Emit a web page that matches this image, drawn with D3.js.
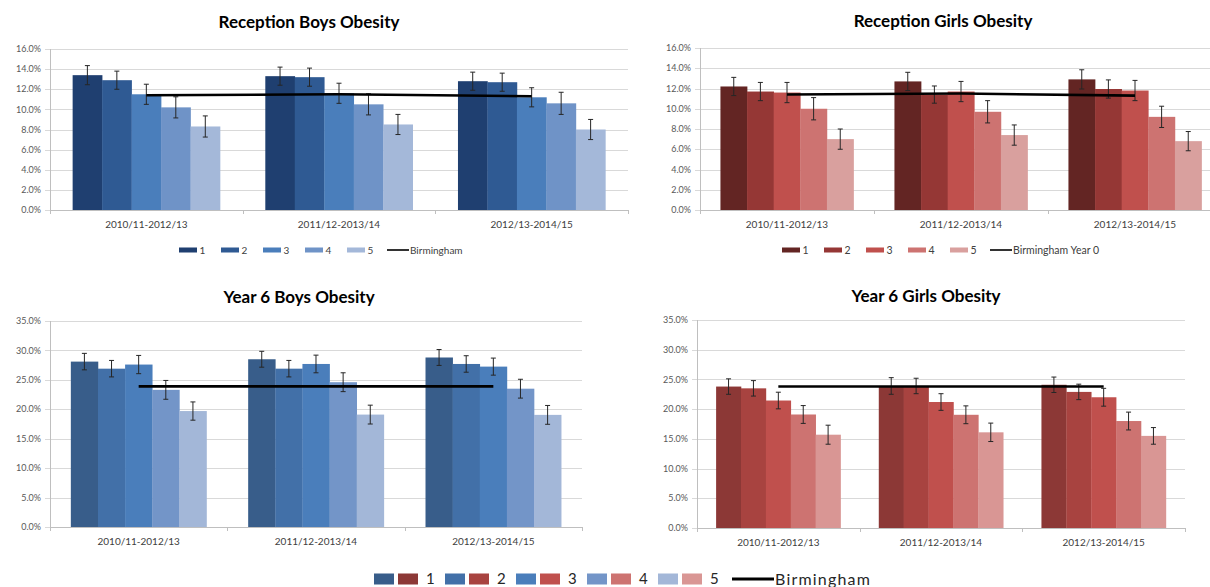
<!DOCTYPE html>
<html><head><meta charset="utf-8">
<script src="https://cdn.jsdelivr.net/npm/d3@7"></script>
<style>
html,body{margin:0;padding:0;background:#fff;overflow:hidden}
svg{display:block}
text{font-family:Lato,"Open Sans",sans-serif}
</style></head>
<body>
<svg id="c" width="1210" height="587"></svg>
<script>
// ---------- DATA ----------
const categories = ["2010/11-2012/13", "2011/12-2013/14", "2012/13-2014/15"];
const quintiles = ["1", "2", "3", "4", "5"];

const recBoys = [[13.4, 12.9, 11.5, 10.2, 8.3], [13.3, 13.2, 11.6, 10.5, 8.5], [12.8, 12.7, 11.2, 10.6, 8.0]];
const recBoysErr = [[0.95, 0.9, 1.0, 1.05, 1.05], [0.9, 0.9, 1.0, 1.05, 1.0], [0.9, 0.9, 0.95, 1.1, 1.0]];
const recBoysBham = [11.4, 11.5, 11.3];

const recGirls = [[12.2, 11.7, 11.6, 10.0, 7.0], [12.7, 11.4, 11.7, 9.7, 7.4], [12.9, 11.95, 11.8, 9.2, 6.8]];
const recGirlsErr = [[0.9, 0.9, 1.0, 1.1, 1.0], [0.9, 0.85, 1.0, 1.1, 1.0], [0.95, 0.9, 1.0, 1.05, 0.95]];
const recGirlsBham = [11.4, 11.5, 11.3];

const y6Boys = [[28.1, 26.9, 27.6, 23.3, 19.7], [28.5, 26.9, 27.7, 24.6, 19.1], [28.8, 27.7, 27.25, 23.5, 19.05]];
const y6BoysErr = [[1.4, 1.4, 1.55, 1.6, 1.55], [1.35, 1.4, 1.5, 1.6, 1.6], [1.35, 1.4, 1.45, 1.6, 1.6]];
const y6BoysBham = [23.9, 23.9, 23.9];

const y6Girls = [[23.8, 23.5, 21.45, 19.1, 15.7], [23.9, 23.9, 21.2, 19.05, 16.1], [24.1, 22.9, 22.0, 18.0, 15.5]];
const y6GirlsErr = [[1.3, 1.3, 1.4, 1.5, 1.6], [1.4, 1.3, 1.4, 1.5, 1.55], [1.3, 1.3, 1.5, 1.5, 1.4]];
const y6GirlsBham = [23.8, 23.8, 23.8];

const recTicks = [0, 2, 4, 6, 8, 10, 12, 14, 16];
const y6Ticks = [0, 5, 10, 15, 20, 25, 30, 35];

const titles = ["Reception Boys Obesity", "Reception Girls Obesity", "Year 6 Boys Obesity", "Year 6 Girls Obesity"];
const legendLine1 = "Birmingham";
const legendLine2 = "Birmingham Year 0";

// ---------- STYLE ----------
const bluesRec = ["#1f3f70", "#2f5a93", "#4a7ebb", "#6f93c7", "#a4b8d9"];
const bluesY6 = ["#385d8a", "#4270a8", "#4a7ebb", "#7395c8", "#a3b7d8"];
const redsRec = ["#632523", "#953735", "#c0504d", "#cd7371", "#d9a09e"];
const redsY6 = ["#8c3836", "#a84340", "#c0504d", "#cd7371", "#d99694"];

const svg = d3.select("#c");

function drawChart(o) {
  const g = svg.append("g");
  const x0 = d3.scaleBand().domain(categories).range([o.x0, o.x1]);
  const bw = x0.bandwidth();
  const gf = 0.765;
  const x1 = d3.scaleBand().domain(quintiles).range([bw * (1 - gf) / 2, bw * (1 + gf) / 2]);
  const y = d3.scaleLinear().domain([0, d3.max(o.ticks)]).range([o.y1, o.y0]);

  // gridlines + y tick marks
  g.selectAll(".grid").data(o.ticks).join("line")
    .attr("x1", o.x0 - 5).attr("x2", o.x1)
    .attr("y1", d => Math.round(y(d)) + 0.5).attr("y2", d => Math.round(y(d)) + 0.5)
    .attr("stroke", "#d9d9d9").attr("stroke-width", 1);
  // y axis line
  g.append("line").attr("x1", o.x0 + 0.5).attr("x2", o.x0 + 0.5).attr("y1", o.y0).attr("y2", o.y1)
    .attr("stroke", "#bfbfbf");
  // y tick labels
  g.selectAll(".yl").data(o.ticks).join("text")
    .attr("x", o.x0 - 9).attr("y", d => y(d)).attr("dy", "0.35em")
    .attr("text-anchor", "end").attr("font-size", 9).attr("fill", "#595959")
    .text(d => d3.format(".1f")(d) + "%");

  // bars
  const grp = g.selectAll(".grp").data(categories).join("g")
    .attr("transform", d => `translate(${x0(d)},0)`);
  grp.selectAll("rect").data((c, i) => o.vals[i].map((v, j) => ({ v, j, e: o.errs[i][j] })))
    .join("rect")
    .attr("x", d => x1(quintiles[d.j])).attr("width", x1.bandwidth() + 0.3)
    .attr("y", d => y(d.v)).attr("height", d => y(0) - y(d.v))
    .attr("fill", d => o.colors[d.j]);

  // x axis line
  g.append("line").attr("x1", o.x0).attr("x2", o.x1).attr("y1", Math.round(y(0)) + 0.5).attr("y2", Math.round(y(0)) + 0.5)
    .attr("stroke", "#bfbfbf");
  // x tick marks at band boundaries
  const bounds = categories.map(c => x0(c)).concat([o.x1]);
  g.selectAll(".xt").data(bounds).join("line")
    .attr("x1", d => Math.round(d) + 0.5).attr("x2", d => Math.round(d) + 0.5)
    .attr("y1", y(0)).attr("y2", y(0) + 4).attr("stroke", "#bfbfbf");
  // x labels
  g.selectAll(".xl").data(categories).join("text")
    .attr("x", d => x0(d) + bw / 2).attr("y", y(0) + 14).attr("dy", "0.35em")
    .attr("text-anchor", "middle").attr("font-size", 10).attr("fill", "#404040")
    .text(d => d);

  // Birmingham line
  const line = d3.line().x((d, i) => x0(categories[i]) + bw / 2).y(d => y(d));
  g.append("path").datum(o.bham).attr("d", line)
    .attr("fill", "none").attr("stroke", "#000").attr("stroke-width", 2.6);

  // error bars
  const eb = grp.selectAll(".eb").data((c, i) => o.vals[i].map((v, j) => ({ v, j, e: o.errs[i][j] })))
    .join("g");
  const cx = d => x1(quintiles[d.j]) + x1.bandwidth() / 2;
  eb.append("line").attr("x1", cx).attr("x2", cx)
    .attr("y1", d => y(d.v + d.e)).attr("y2", d => y(d.v - d.e))
    .attr("stroke", "#262626").attr("stroke-width", 1);
  [1, -1].forEach(s => {
    eb.append("line").attr("x1", d => cx(d) - 2.5).attr("x2", d => cx(d) + 2.5)
      .attr("y1", d => y(d.v + s * d.e)).attr("y2", d => y(d.v + s * d.e))
      .attr("stroke", "#262626").attr("stroke-width", 1);
  });

  // title
  g.append("text").attr("x", o.tx).attr("y", o.ty).attr("text-anchor", "middle")
    .attr("font-size", 17).attr("font-weight", "bold").attr("fill", "#000")
    .text(o.title);
}

drawChart({ vals: recBoys, errs: recBoysErr, bham: recBoysBham, ticks: recTicks, colors: bluesRec,
  x0: 50, x1: 628, y0: 49, y1: 210, tx: 309, ty: 28, title: titles[0] });
drawChart({ vals: recGirls, errs: recGirlsErr, bham: recGirlsBham, ticks: recTicks, colors: redsRec,
  x0: 700, x1: 1222, y0: 48, y1: 210, tx: 943, ty: 27, title: titles[1] });
drawChart({ vals: y6Boys, errs: y6BoysErr, bham: y6BoysBham, ticks: y6Ticks, colors: bluesY6,
  x0: 50, x1: 582, y0: 321, y1: 527, tx: 299, ty: 303, title: titles[2] });
drawChart({ vals: y6Girls, errs: y6GirlsErr, bham: y6GirlsBham, ticks: y6Ticks, colors: redsY6,
  x0: 697, x1: 1185, y0: 320, y1: 528, tx: 926, ty: 302, title: titles[3] });

// small legends
function smallLegend(x, yc, colors, label, step, fs) {
  const g = svg.append("g").attr("transform", `translate(${x},${yc})`);
  const it = g.selectAll("g").data(quintiles).join("g").attr("transform", (d, i) => `translate(${i * step},0)`);
  it.append("rect").attr("x", 0).attr("y", -2.5).attr("width", 18).attr("height", 5).attr("fill", (d, i) => colors[i]);
  it.append("text").attr("x", 20.5).attr("y", 0).attr("dy", "0.35em").attr("font-size", fs).attr("fill", "#404040").text(d => d);
  const lx = quintiles.length * step;
  g.append("line").attr("x1", lx - 2).attr("x2", lx + 20).attr("y1", 0).attr("y2", 0).attr("stroke", "#000").attr("stroke-width", 1.6);
  g.append("text").attr("x", lx + 21).attr("y", 0).attr("dy", "0.35em").attr("font-size", fs).attr("fill", "#404040").text(label);
}
smallLegend(179, 250, bluesRec, legendLine1, 42, 10);
smallLegend(782, 250, redsRec, legendLine2, 42, 10.5);

// bottom combined legend
(function () {
  const g = svg.append("g").attr("transform", "translate(374,579)");
  const step = 71;
  const it = g.selectAll("g").data(quintiles).join("g").attr("transform", (d, i) => `translate(${i * step},0)`);
  it.append("rect").attr("x", 0).attr("y", -5.5).attr("width", 20).attr("height", 11).attr("fill", (d, i) => bluesY6[i]);
  it.append("rect").attr("x", 24).attr("y", -5.5).attr("width", 20).attr("height", 11).attr("fill", (d, i) => redsY6[i]);
  it.append("text").attr("x", 52).attr("y", 0).attr("dy", "0.36em").attr("font-size", 15).attr("fill", "#262626").text(d => d);
  const lx = quintiles.length * step;
  g.append("line").attr("x1", lx + 3).attr("x2", lx + 45).attr("y1", 0).attr("y2", 0).attr("stroke", "#000").attr("stroke-width", 3);
  g.append("text").attr("x", lx + 46).attr("y", 0).attr("dy", "0.36em").attr("font-size", 16).attr("letter-spacing", 1.2)
    .attr("fill", "#262626").text(legendLine1);
})();
</script>
</body></html>
